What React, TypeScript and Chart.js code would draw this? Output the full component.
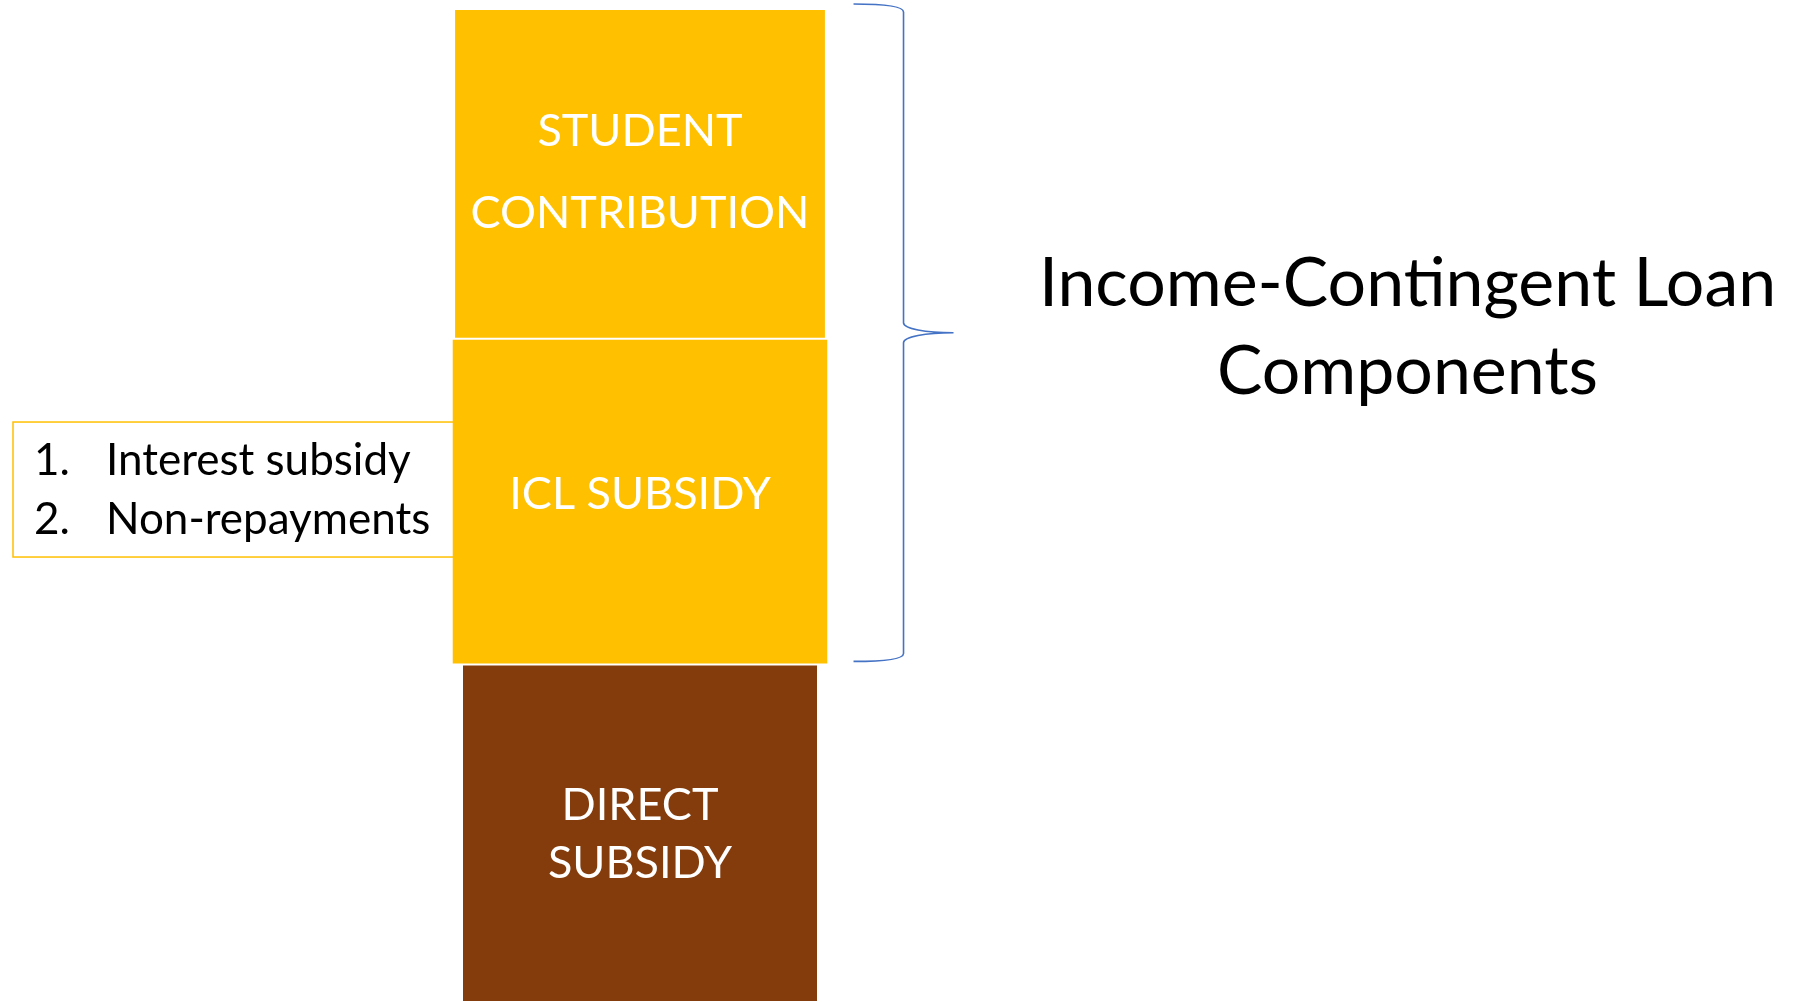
import React, { useEffect, useRef } from "react";
import { Chart, registerables } from "chart.js";

Chart.register(...registerables);

// ---- data ----
const categories = ["Funding"];
const segmentNames = ["DIRECT SUBSIDY", "ICL SUBSIDY", "STUDENT CONTRIBUTION"];
const segmentLabelLines = [["DIRECT", "SUBSIDY"], ["ICL SUBSIDY"], ["STUDENT", "CONTRIBUTION"]];
const segmentValues = [34, 32.8, 33.2];
const segmentColors = ["#843C0C", "#FFC000", "#FFC000"];
const segmentBarPct = [0.2766, 0.293, 0.289];
const iclComponents = ["Interest subsidy", "Non-repayments"];
const braceTitleLines = ["Income-Contingent Loan", "Components"];

const FONT = "Lato, 'Open Sans', sans-serif";

const diagramPlugin = {
  id: "diagram",
  beforeDatasetsDraw(chart: any) {
    const ctx = chart.ctx;
    const icl = chart.getDatasetMeta(1).data[0];
    if (!icl) return;
    const p = icl.getProps(["x", "y", "base", "width"], true);
    const left = p.x - p.width / 2;
    const cy = (p.y + p.base) / 2;
    const boxLeft = chart.chartArea.left + 13;
    const boxTop = cy - 79.5;
    const boxBottom = cy + 55.5;
    ctx.save();
    ctx.strokeStyle = "#FFC000";
    ctx.lineWidth = 1.5;
    ctx.strokeRect(boxLeft, boxTop, left + 4 - boxLeft, boxBottom - boxTop);
    ctx.fillStyle = "#000000";
    ctx.font = `44px ${FONT}`;
    ctx.textBaseline = "alphabetic";
    ctx.textAlign = "left";
    const baselines = [cy - 26.5, cy + 32.5];
    iclComponents.forEach((t, i) => {
      ctx.fillText(`${i + 1}.`, boxLeft + 21, baselines[i]);
      ctx.fillText(t, boxLeft + 93, baselines[i]);
    });
    ctx.restore();
  },
  afterDatasetsDraw(chart: any) {
    const ctx = chart.ctx;
    ctx.save();
    ctx.fillStyle = "#FFFFFF";
    ctx.textAlign = "center";
    ctx.textBaseline = "alphabetic";
    const lineGap = [58, 0, 82];
    const yShift = [0, -9, -3];
    const capHalf = 16;
    ctx.font = `45px ${FONT}`;
    segmentLabelLines.forEach((lines, i) => {
      const el = chart.getDatasetMeta(i).data[0];
      if (!el) return;
      const p = el.getProps(["x", "y", "base"], true);
      const bottom = Math.min(p.base, chart.height);
      const cy = (p.y + bottom) / 2 + yShift[i];
      const n = lines.length;
      lines.forEach((t, j) => {
        const ly = cy + (j - (n - 1) / 2) * lineGap[i] + capHalf;
        ctx.fillText(t, p.x, ly);
      });
    });

    // brace
    const st = chart.getDatasetMeta(2).data[0].getProps(["x", "y", "base", "width"], true);
    const ic = chart.getDatasetMeta(1).data[0].getProps(["x", "y", "base", "width"], true);
    const right = Math.max(st.x + st.width / 2, ic.x + ic.width / 2);
    const xEnd = right + 26;
    const xV = xEnd + 50;
    const xTip = xV + 50;
    const yTop = st.y - 5;
    const yBot = ic.base - 3;
    const yMid = (yTop + yBot) / 2;
    ctx.strokeStyle = "#4472C4";
    ctx.lineWidth = 1.6;
    ctx.beginPath();
    ctx.moveTo(xEnd, yTop);
    ctx.bezierCurveTo(xEnd + 30, yTop, xV, yTop + 2, xV, yTop + 8);
    ctx.lineTo(xV, yMid - 10);
    ctx.bezierCurveTo(xV, yMid - 4, xV + 22, yMid, xTip, yMid);
    ctx.moveTo(xTip, yMid);
    ctx.bezierCurveTo(xV + 22, yMid, xV, yMid + 4, xV, yMid + 10);
    ctx.lineTo(xV, yBot - 8);
    ctx.bezierCurveTo(xV, yBot - 2, xEnd + 30, yBot, xEnd, yBot);
    ctx.stroke();

    // title
    ctx.fillStyle = "#000000";
    ctx.font = `68px ${FONT}`;
    ctx.textAlign = "center";
    const tx = xTip + 454;
    ctx.fillText(braceTitleLines[0], tx, yMid - 27);
    ctx.fillText(braceTitleLines[1], tx, yMid + 61);
    ctx.restore();
  },
};

export default function App() {
  const ref = useRef<HTMLCanvasElement | null>(null);
  useEffect(() => {
    if (!ref.current) return;
    const chart = new Chart(ref.current, {
      type: "bar",
      data: {
        labels: categories,
        datasets: segmentNames.map((name, i) => ({
          label: name,
          data: [segmentValues[i]],
          backgroundColor: segmentColors[i],
          borderColor: "#FFFFFF",
          borderWidth: { top: 1, bottom: 1, left: 0, right: 0 },
          borderSkipped: false,
          categoryPercentage: 1,
          barPercentage: segmentBarPct[i],
        })),
      },
      options: {
        animation: false,
        responsive: false,
        devicePixelRatio: 1,
        layout: { padding: { left: 0, right: 530, top: 9, bottom: 0 } },
        plugins: {
          legend: { display: false },
          tooltip: { enabled: false },
          title: { display: false },
        },
        scales: {
          x: { stacked: true, display: false },
          y: { stacked: true, display: false, min: 0, max: 100 },
        },
      },
      plugins: [diagramPlugin],
    });
    return () => chart.destroy();
  }, []);
  return (
    <div style={{ position: "fixed", left: 0, top: 0, width: 1810, height: 1002, background: "#fff" }}>
      <canvas ref={ref} width={1810} height={1002} style={{ width: 1810, height: 1002, display: "block" }} />
    </div>
  );
}
